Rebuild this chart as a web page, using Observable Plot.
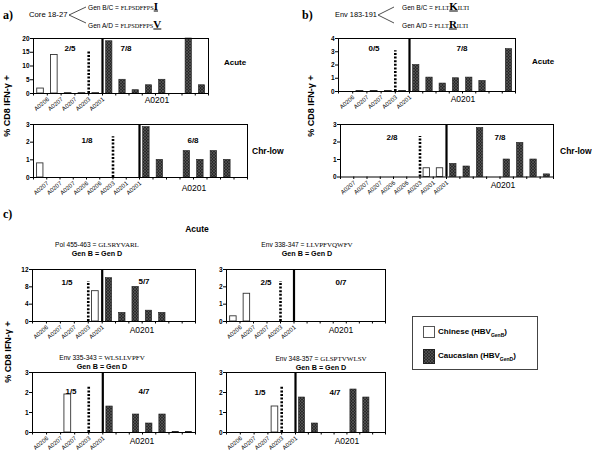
<!DOCTYPE html>
<html>
<head>
<meta charset="utf-8">
<script src="https://cdn.jsdelivr.net/npm/d3@7"></script>
<script src="https://cdn.jsdelivr.net/npm/@observablehq/plot@0.6"></script>
<style>
  html, body { margin: 0; padding: 0; background: white; }
  #fig { position: relative; width: 592px; height: 450px; overflow: hidden; font-family: "Liberation Sans", Arial, sans-serif; color: #000; }
  .t { position: absolute; white-space: nowrap; line-height: 1; }
  .c { transform: translate(-50%, -50%); }
  .l { transform: translate(0, -50%); }
  .b { font-weight: bold; }
</style>
</head>
<body>
<svg width="0" height="0" style="position:absolute">
  <defs>
    <pattern id="hatch" patternUnits="userSpaceOnUse" width="3" height="3">
      <rect width="3" height="3" fill="#2a2a2a"></rect>
      <path d="M0,3 L3,0 M0,0 L3,3" stroke="#6a6a6a" stroke-width="0.5"></path>
    </pattern>
  </defs>
</svg>
<div id="fig"></div>
<script>
// ---------------- DATA ----------------
const labels5 = ["A0206", "A0207", "A0207", "A0203", "A0201"];
const labels8 = ["A0207", "A0207", "A0207", "A0206", "A0206", "A0203", "A0201", "A0201"];

// a) Core 18-27
const coreAcuteChinese = [1.8, 14, 0.15, 0.15, 0.15];
const coreAcuteCaucasian = [19, 5, 1.2, 3, 5, 0, 20, 3];
const coreChrChinese = [0.8, 0, 0, 0, 0, 0, 0, 0];
const coreChrCaucasian = [2.85, 1, 0, 1.5, 1, 1.5, 1, 0];

// b) Env 183-191
const envAcuteChinese = [0, 0.04, 0.04, 0.04, 0.04];
const envAcuteCaucasian = [2.0, 1.05, 0.6, 1.0, 1.05, 0.8, 0, 3.2];
const envChrChinese = [0, 0, 0, 0, 0, 0, 0.5, 0.5];
const envChrCaucasian = [0.75, 0.6, 2.8, 0, 1.0, 1.95, 1.0, 0.15];

// c) Acute, Gen B = Gen D
const polChinese = [0, 0, 0, 0, 7];
const polCaucasian = [10, 2, 8, 2.5, 2, 0, 0];
const env338Chinese = [0.3, 1.6, 0, 0, 0];
const env338Caucasian = [0, 0, 0, 0, 0, 0, 0];
const env335Chinese = [0, 0, 1.9, 0, 0];
const env335Caucasian = [1.3, 0, 0.9, 0.45, 0.9, 0.03, 0.03];
const env348Chinese = [0, 0, 0, 1.3, 0];
const env348Caucasian = [1.75, 0.45, 0, 0, 2.15, 1.75, 0];

const ticks20 = [0, 5, 10, 15, 20];
const ticks4 = [0, 1, 2, 3, 4];
const ticks3 = [0, 1, 2, 3];
const ticks12 = [0, 4, 8, 12];

const fractions = {
  aTop: ["2/5", "7/8"], aBot: ["1/8", "6/8"],
  bTop: ["0/5", "7/8"], bBot: ["2/8", "7/8"],
  pol: ["1/5", "5/7"], env338: ["2/5", "0/7"],
  env335: ["1/5", "4/7"], env348: ["1/5", "4/7"]
};

// ---------------- DRAW ----------------
const fig = document.getElementById("fig");
const CA_FILL = "#404040";

function panel(cfg) {
  const nCh = cfg.ch.length, nCa = cfg.ca.length, N = nCh + nCa;
  const chBars = cfg.ch.map((v, i) => ({i, v})).filter(d => d.v > 0);
  const caBars = cfg.ca.map((v, j) => ({i: nCh + j, v})).filter(d => d.v > 0);
  const W = cfg.right - cfg.left, H = cfg.bottom - cfg.top;
  const ml = 20, mr = 4, mt = 4, mb = 24;
  const svg = Plot.plot({
    width: W + ml + mr, height: H + mt + mb,
    marginLeft: ml, marginRight: mr, marginTop: mt, marginBottom: mb,
    style: {background: "none", overflow: "visible", fontFamily: "'Liberation Sans', Arial, sans-serif", color: "black"},
    x: {type: "linear", domain: [0, nCh, N], range: [ml, ml + (cfg.div - cfg.left), ml + W], label: null},
    y: {domain: [0, cfg.ymax], label: null},
    marks: [
      Plot.rect(chBars, {x1: d => d.i + 0.27, x2: d => d.i + 0.75, y1: 0, y2: "v", fill: "white", stroke: "#333", strokeWidth: 0.9}),
      Plot.rect(caBars, {x1: d => d.i + 0.27, x2: d => d.i + 0.75, y1: 0, y2: "v", fill: CA_FILL, stroke: "#222", strokeWidth: 0.6}),
      Plot.ruleX([cfg.dot], {y1: 0, y2: cfg.ymax * 0.77, stroke: "black", strokeWidth: 2.6, strokeDasharray: "2,1.6"}),
      Plot.ruleX([nCh], {stroke: "black", strokeWidth: 2.2}),
      Plot.frame({stroke: "black", strokeWidth: 1}),
      Plot.axisY({ticks: cfg.yticks, tickSize: 3, tickPadding: 1, fontSize: 6.5, fontWeight: "bold", tickFormat: d => String(d), label: null}),
      Plot.axisX({ticks: d3.range(N + 1), tickSize: 2.5, tickFormat: () => "", label: null}),
      Plot.text(cfg.labels.map((t, i) => ({t, i})), {x: d => d.i + 1, y: 0, text: "t", rotate: -40, textAnchor: "end", dx: 1, dy: 5, fontSize: 6, fill: "black"})
    ]
  });
  svg.querySelectorAll(`[fill="${CA_FILL}"]`).forEach(el => el.setAttribute("fill", "url(#hatch)"));
  svg.style.position = "absolute";
  svg.style.left = (cfg.left - ml) + "px";
  svg.style.top = (cfg.top - mt) + "px";
  svg.style.maxWidth = "none";
  fig.appendChild(svg);
}

function txt(x, y, html, cls, size, extra) {
  const d = document.createElement("div");
  d.className = "t " + cls;
  d.style.left = x + "px";
  d.style.top = y + "px";
  d.style.fontSize = size + "px";
  if (extra) d.style.cssText += extra;
  d.innerHTML = html;
  fig.appendChild(d);
  return d;
}

panel({left: 33, right: 208, div: 102, top: 38, bottom: 93, ymax: 20, yticks: ticks20, labels: labels5, ch: coreAcuteChinese, ca: coreAcuteCaucasian, dot: 4});
panel({left: 33, right: 247, div: 139, top: 123.5, bottom: 176.5, ymax: 3, yticks: ticks3, labels: labels8, ch: coreChrChinese, ca: coreChrCaucasian, dot: 6});
panel({left: 338, right: 515, div: 409, top: 38, bottom: 91, ymax: 4, yticks: ticks4, labels: labels5, ch: envAcuteChinese, ca: envAcuteCaucasian, dot: 4});
panel({left: 340, right: 553, div: 446, top: 123.5, bottom: 176, ymax: 3, yticks: ticks3, labels: labels8, ch: envChrChinese, ca: envChrCaucasian, dot: 6});
panel({left: 32, right: 195, div: 101.7, top: 269, bottom: 321, ymax: 12, yticks: ticks12, labels: labels5, ch: polChinese, ca: polCaucasian, dot: 4});
panel({left: 226, right: 385, div: 293.5, top: 269, bottom: 321, ymax: 3, yticks: ticks3, labels: labels5, ch: env338Chinese, ca: env338Caucasian, dot: 4});
panel({left: 32, right: 195, div: 102.3, top: 372, bottom: 432, ymax: 3, yticks: ticks3, labels: labels5, ch: env335Chinese, ca: env335Caucasian, dot: 4});
panel({left: 226, right: 385, div: 295, top: 372, bottom: 432, ymax: 3, yticks: ticks3, labels: labels5, ch: env348Chinese, ca: env348Caucasian, dot: 4});

// ---- annotations ----
const SER = "font-family:'Liberation Serif','Times New Roman',serif;";
function gen(x, y, name, pre, aa, post) {
  txt(x, y, `${name} = <span style="${SER}font-size:6.3px">${pre}</span><span style="${SER}font-size:11px;font-weight:bold;text-decoration:underline">${aa}</span><span style="${SER}font-size:6.3px">${post}</span>`, "l", 6.6);
}
function bracket(x0, x1) {
  const s = document.createElementNS("http://www.w3.org/2000/svg", "svg");
  s.setAttribute("width", 30); s.setAttribute("height", 30);
  s.style.cssText = `position:absolute;left:${x0}px;top:0px;overflow:visible`;
  s.innerHTML = `<path d="M${x1 - x0},7 L0,15 L${x1 - x0},23" fill="none" stroke="#222" stroke-width="0.8"/>`;
  fig.appendChild(s);
}

// a)
txt(3, 15, "a)", "l b", 12, SER);
txt(29, 15, "Core 18-27", "l", 7.7);
bracket(69, 86);
gen(88, 6, "Gen B/C", "FLPSDFFPS", "I", "");
gen(88, 24, "Gen A/D", "FLPSDFFPS", "V", "");
txt(70, 49, fractions.aTop[0], "c b", 8);
txt(126, 49, fractions.aTop[1], "c b", 8);
txt(157, 100, "A0201", "c", 8.5);
txt(224, 63, "Acute", "l b", 8);
txt(87, 141, fractions.aBot[0], "c b", 8);
txt(193, 141, fractions.aBot[1], "c b", 8);
txt(194, 188, "A0201", "c", 8.5);
txt(252, 151, "Chr-low", "l b", 8.5);
txt(7, 106, "% CD8 IFN-&gamma; +", "c b", 9, "transform:translate(-50%,-50%) rotate(-90deg)");

// b)
txt(302, 15, "b)", "l b", 12, SER);
txt(335, 15, "Env 183-191", "l", 7.4);
bracket(378, 394);
gen(402, 6, "Gen B/C", "FLLT", "K", "ILTI");
gen(402, 24, "Gen A/D", "FLLT", "R", "ILTI");
txt(374, 49, fractions.bTop[0], "c b", 8);
txt(462, 49, fractions.bTop[1], "c b", 8);
txt(463, 99, "A0201", "c", 8.5);
txt(532, 62, "Acute", "l b", 8);
txt(392, 138, fractions.bBot[0], "c b", 8);
txt(500, 138, fractions.bBot[1], "c b", 8);
txt(503, 185, "A0201", "c", 8.5);
txt(560, 151, "Chr-low", "l b", 8.5);
txt(311, 106, "% CD8 IFN-&gamma; +", "c b", 9, "transform:translate(-50%,-50%) rotate(-90deg)");

// c)
txt(3, 214, "c)", "l b", 12, SER);
txt(197, 229, "Acute", "c b", 8.5);
function title(x, y, name, seq) {
  txt(x, y, `${name} = <span style="${SER}font-size:7px">${seq}</span>`, "c", 6.6);
  txt(x, y + 9, "Gen B = Gen D", "c b", 7.2);
}
title(97, 245, "Pol 455-463", "GLSRYVARL");
title(307, 245, "Env 338-347", "LLVPFVQWFV");
title(102, 358, "Env 335-343", "WLSLLVPFV");
title(321, 359, "Env 348-357", "GLSPTVWLSV");
txt(67, 283, fractions.pol[0], "c b", 8);
txt(144, 282, fractions.pol[1], "c b", 8);
txt(142, 330, "A0201", "c", 8.5);
txt(266, 283, fractions.env338[0], "c b", 8);
txt(341, 283, fractions.env338[1], "c b", 8);
txt(341, 330, "A0201", "c", 8.5);
txt(71, 392, fractions.env335[0], "c b", 8);
txt(144, 392, fractions.env335[1], "c b", 8);
txt(142, 441, "A0201", "c", 8.5);
txt(260, 393, fractions.env348[0], "c b", 8);
txt(335, 393, fractions.env348[1], "c b", 8);
txt(347, 441, "A0201", "c", 8.5);
txt(8, 352, "% CD8 IFN-&gamma; +", "c b", 9, "transform:translate(-50%,-50%) rotate(-90deg)");

// legend
const leg = document.createElement("div");
leg.style.cssText = "position:absolute;left:412px;top:316px;width:126px;height:54px;border:1px solid #444;box-sizing:border-box;";
leg.innerHTML = `
<svg width="14" height="16" style="position:absolute;left:10px;top:9px;overflow:visible"><rect x="0.5" y="0.5" width="11" height="11" fill="white" stroke="#555"/></svg>
<div class="t l b" style="left:25px;top:16px;font-size:8px">Chinese (HBV<sub style="font-size:5px">GenB</sub>)</div>
<svg width="14" height="16" style="position:absolute;left:10px;top:32px;overflow:visible"><rect x="0.5" y="0.5" width="11" height="14" fill="url(#hatch)" stroke="#222"/></svg>
<div class="t l b" style="left:25px;top:40px;font-size:8px">Caucasian (HBV<sub style="font-size:5px">GenD</sub>)</div>`;
fig.appendChild(leg);
</script>
</body>
</html>
